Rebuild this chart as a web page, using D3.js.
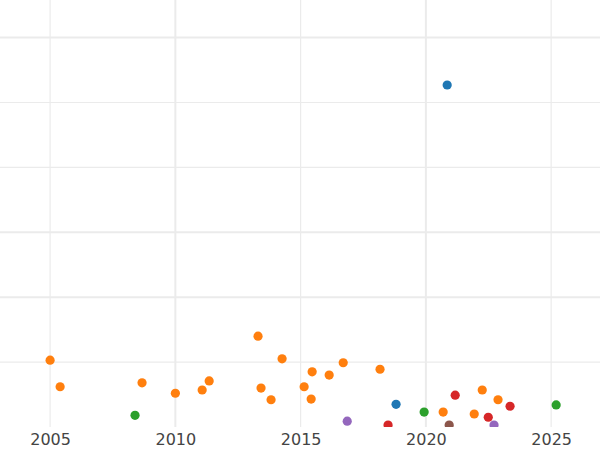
<!DOCTYPE html>
<html>
<head>
<meta charset="utf-8">
<script src="https://cdn.jsdelivr.net/npm/d3@7"></script>
<style>body{margin:0;background:#fff}</style>
</head>
<body>
<div id="chart"></div>
<script>
// --- Data ---
const groups = ["blue", "orange", "green", "red", "purple", "brown"];
const groupColors = ["#1f77b4", "#ff7f0e", "#2ca02c", "#d62728", "#9467bd", "#8c564b"];
const years = [2020.85, 2018.81,
  2005.0, 2005.4, 2008.67, 2010.0, 2011.07, 2011.35, 2013.3, 2013.42, 2013.82, 2014.26,
  2015.14, 2015.42, 2015.46, 2016.14, 2016.7, 2018.17, 2020.69, 2021.93, 2022.25, 2022.88,
  2008.39, 2019.93, 2025.2,
  2018.49, 2021.17, 2022.49, 2023.36,
  2016.86, 2022.72,
  2020.93];
const values = [5.27, 0.35,
  1.03, 0.62, 0.68, 0.52, 0.57, 0.71, 1.40, 0.60, 0.42, 1.05,
  0.62, 0.43, 0.85, 0.80, 0.99, 0.89, 0.23, 0.20, 0.57, 0.42,
  0.18, 0.23, 0.34,
  0.03, 0.49, 0.15, 0.32,
  0.09, 0.03,
  0.03];
const pointGroup = ["blue", "blue",
  "orange", "orange", "orange", "orange", "orange", "orange", "orange", "orange", "orange", "orange",
  "orange", "orange", "orange", "orange", "orange", "orange", "orange", "orange", "orange", "orange",
  "green", "green", "green",
  "red", "red", "red", "red",
  "purple", "purple",
  "brown"];
const xTicks = [2005, 2010, 2015, 2020, 2025];
const xMinor = [2005, 2015, 2025];
const yGrid = [1, 2, 3, 4, 5, 6];
const yMajor = [3, 2, 6];

const width = 600, height = 450, plotH = 427;
const svg = d3.select("#chart").append("svg")
  .attr("width", width).attr("height", height);

const x = d3.scaleLinear().domain([2003.0, 2026.95]).range([0, width]);
const y = d3.scaleLinear().domain([0, plotH / 64.9]).range([plotH, 0]);
const color = d3.scaleOrdinal().domain(groups).range(groupColors);

// --- Grid ---
svg.append("g").selectAll("line").data(yGrid).join("line")
  .attr("x1", 0).attr("x2", width)
  .attr("y1", d => y(d)).attr("y2", d => y(d))
  .attr("stroke", "#ebebeb")
  .attr("stroke-width", d => yMajor.includes(d) ? 2 : 1.2);

svg.append("g").selectAll("line").data(xTicks).join("line")
  .attr("x1", d => x(d)).attr("x2", d => x(d))
  .attr("y1", 0).attr("y2", plotH)
  .attr("stroke", "#ebebeb")
  .attr("stroke-width", d => xMinor.includes(d) ? 1.2 : 2);

// --- Points (clipped to plot area) ---
svg.append("clipPath").attr("id", "clip")
  .append("rect").attr("width", width).attr("height", plotH);

const pts = years.map((yr, i) => ({ yr, v: values[i], g: pointGroup[i] }));
svg.append("g").attr("clip-path", "url(#clip)")
  .selectAll("circle").data(pts).join("circle")
  .attr("cx", d => x(d.yr))
  .attr("cy", d => y(d.v))
  .attr("r", 4.6)
  .attr("fill", d => color(d.g));

// --- X axis labels ---
const ax = svg.append("g")
  .attr("transform", `translate(0,${plotH})`)
  .call(d3.axisBottom(x).tickValues(xTicks).tickFormat(d3.format("d")).tickSize(0).tickPadding(7));
ax.select(".domain").remove();
ax.selectAll("text")
  .attr("fill", "#444")
  .style("font-family", "DejaVu Sans")
  .style("font-size", "16px");
</script>
</body>
</html>
